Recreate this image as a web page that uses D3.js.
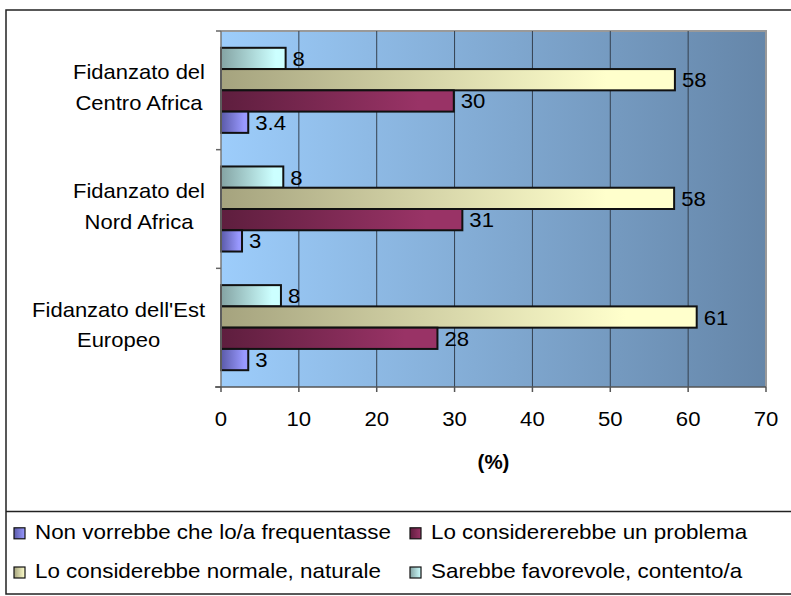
<!DOCTYPE html>
<html><head><meta charset="utf-8">
<script src="https://cdn.jsdelivr.net/npm/d3@7"></script>
<style>
body{margin:0;background:#fff;}
svg{display:block;}
text{font-family:"Liberation Sans", Arial, sans-serif;fill:#000;}
</style>
</head><body>
<svg id="c" width="791" height="596"></svg>
<script>
// ---------- data ----------
const categoryLines = [["Fidanzato del","Centro Africa"],["Fidanzato del","Nord Africa"],["Fidanzato dell'Est","Europeo"]];
const seriesKeys = ["favorevole","normale","problema","nonVorrebbe"]; // top to bottom within a group
const seriesNames = {
  nonVorrebbe: "Non vorrebbe che lo/a frequentasse",
  problema: "Lo considererebbe un problema",
  normale: "Lo considerebbe normale, naturale",
  favorevole: "Sarebbe favorevole, contento/a"
};
const favorevole = [8.3, 8.0, 7.7];
const normale = [58.3, 58.2, 61.1];
const problema = [29.9, 31.0, 27.8];
const nonVorrebbe = [3.5, 2.7, 3.5];
const favorevoleLabels = ["8","8","8"];
const normaleLabels = ["58","58","61"];
const problemaLabels = ["30","31","28"];
const nonVorrebbeLabels = ["3.4","3","3"];
const xTicks = [0,10,20,30,40,50,60,70];
const axisTitle = "(%)";
const legendOrder = [["nonVorrebbe","problema"],["normale","favorevole"]];

const values = {favorevole, normale, problema, nonVorrebbe};
const labels = {favorevole: favorevoleLabels, normale: normaleLabels, problema: problemaLabels, nonVorrebbe: nonVorrebbeLabels};
const colors = {
  favorevole: ["#84a3a3", "#ccffff"],
  normale: ["#a5a37e", "#ffffcc"],
  problema: ["#5e1e3e", "#993366"],
  nonVorrebbe: ["#5a5aa8", "#9999ff"]
};

// ---------- layout ----------
const svg = d3.select("#c");
const L = 221, R = 766, T = 31, B = 387;
const SX = 1.1; // horizontal text stretch

const defs = svg.append("defs");
const bg = defs.append("linearGradient").attr("id","bg").attr("x1",0).attr("x2",1).attr("y1",0).attr("y2",0);
bg.append("stop").attr("offset",0).attr("stop-color","#9dcdfb");
bg.append("stop").attr("offset",1).attr("stop-color","#6586a9");
seriesKeys.forEach(k=>{
  const g = defs.append("linearGradient").attr("id","g_"+k).attr("x1",0).attr("x2",1).attr("y1",0).attr("y2",0);
  g.append("stop").attr("offset",0).attr("stop-color",colors[k][0]);
  g.append("stop").attr("offset",0.85).attr("stop-color",colors[k][1]);
  g.append("stop").attr("offset",1).attr("stop-color",colors[k][1]);
});

function stext(parent, x, y, str, anchor, size, weight, sx){
  return parent.append("text")
    .attr("transform", `translate(${x},${y}) scale(${sx||SX},1)`)
    .attr("text-anchor", anchor||"start")
    .style("font-size", (size||20)+"px")
    .style("font-weight", weight||"normal")
    .text(str);
}

// outer frame
svg.append("rect").attr("x",6).attr("y",10).attr("width",800).attr("height",584)
  .attr("fill","none").attr("stroke","#222").attr("stroke-width",1.5);
svg.append("line").attr("x1",6).attr("x2",791).attr("y1",511.5).attr("y2",511.5)
  .attr("stroke","#222").attr("stroke-width",1.5);

// scales
const x = d3.scaleLinear().domain([0,70]).range([L,R]);
const y = d3.scaleBand().domain(d3.range(categoryLines.length)).range([T,B]).padding(0);
const ys = d3.scaleBand().domain(seriesKeys).range([0,y.bandwidth()]).paddingInner(0).paddingOuter(0.79);

// plot background
svg.append("rect").attr("x",L).attr("y",T).attr("width",R-L).attr("height",B-T).attr("fill","url(#bg)");
// plot border (top/right)
svg.append("path").attr("d",`M${L},${T}H${R}V${B}`).attr("fill","none").attr("stroke","#999").attr("stroke-width",2);

// gridlines
svg.append("g").selectAll("line").data(xTicks.slice(1,-1)).join("line")
  .attr("x1",d=>x(d)).attr("x2",d=>x(d)).attr("y1",T).attr("y2",B)
  .attr("stroke","#34404f").attr("stroke-width",1);

// bars
const groups = svg.append("g").selectAll("g").data(categoryLines).join("g")
  .attr("transform",(d,i)=>`translate(0,${y(i)})`);
seriesKeys.forEach(k=>{
  groups.append("rect")
    .attr("x",x(0)).attr("y",ys(k))
    .attr("width",(d,i)=>x(values[k][i])-x(0))
    .attr("height",ys.bandwidth())
    .attr("fill","url(#g_"+k+")")
    .attr("stroke","#111").attr("stroke-width",2);
});
// value labels
seriesKeys.forEach(k=>{
  groups.each(function(d,i){
    const g = d3.select(this);
    stext(g, x(values[k][i])+7, ys(k)+ys.bandwidth()/2+7.5, labels[k][i], "start", 20.5, "normal", 1.08);
  });
});

// y axis
svg.append("line").attr("x1",L).attr("x2",L).attr("y1",T).attr("y2",B).attr("stroke","#777").attr("stroke-width",1.5);
svg.append("g").selectAll("line").data(d3.range(categoryLines.length+1)).join("line")
  .attr("x1",L-5).attr("x2",L).attr("y1",d=>T+d*y.step()).attr("y2",d=>T+d*y.step())
  .attr("stroke","#666").attr("stroke-width",1.5);
// x axis
svg.append("line").attr("x1",L-6).attr("x2",R).attr("y1",B).attr("y2",B).attr("stroke","#555").attr("stroke-width",1.5);
svg.append("g").selectAll("line").data(xTicks).join("line")
  .attr("x1",d=>x(d)).attr("x2",d=>x(d)).attr("y1",B).attr("y2",B+5)
  .attr("stroke","#555").attr("stroke-width",1.5);
xTicks.forEach(t=>stext(svg, x(t), 426, String(t), "middle", 20.5, "normal", 1.08));
stext(svg, (L+R)/2, 469, axisTitle, "middle", 19.5, "bold", 1.05);

// category labels
categoryLines.forEach((lines,i)=>{
  const c = y(i)+y.bandwidth()/2;
  const g = svg.append("g");
  const nodes = lines.map((ln,j)=>stext(g, 0, c-11+j*30.5, ln, "middle", 20));
  const maxW = d3.max(nodes, n=>n.node().getComputedTextLength())*SX;
  const cx = 205 - maxW/2;
  nodes.forEach((n,j)=>n.attr("transform",`translate(${cx},${c-11+j*30.5}) scale(${SX},1)`));
});

// legend
const legX = [14, 410], legY = [538.8, 578];
legendOrder.forEach((row,r)=>{
  row.forEach((k,c)=>{
    const lg = defs.append("linearGradient").attr("id","lg_"+k).attr("x1",0).attr("x2",1).attr("y1",0).attr("y2",0);
    lg.append("stop").attr("offset",0).attr("stop-color",colors[k][0]);
    lg.append("stop").attr("offset",1).attr("stop-color",colors[k][1]);
    svg.append("rect").attr("x",legX[c]).attr("y",legY[r]-11).attr("width",11).attr("height",11)
      .attr("fill","url(#lg_"+k+")").attr("stroke","#111").attr("stroke-width",1.2);
    stext(svg, legX[c]+21, legY[r], seriesNames[k], "start", 20, "normal", 1.12);
  });
});
</script>
</body></html>
